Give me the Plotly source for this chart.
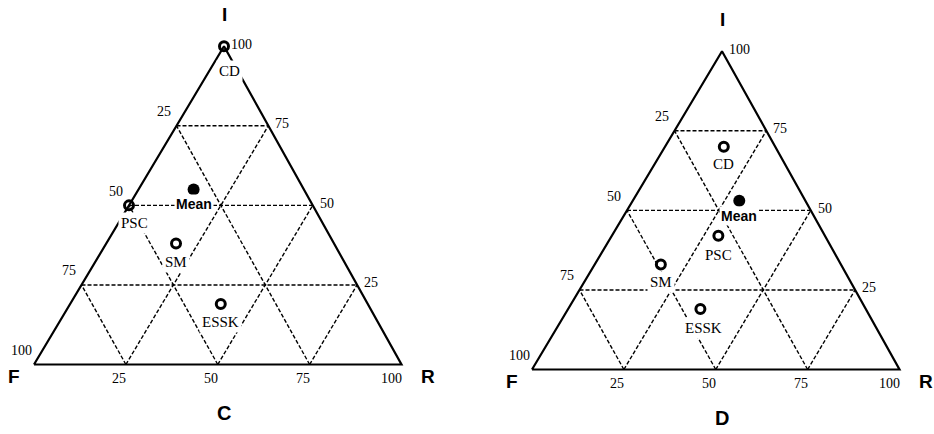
import math
import plotly.graph_objects as go

# Composition (percent) of each source: I, F and R components
SOURCES = ["CD", "PSC", "SM", "ESSK"]

C_I = [100, 50, 38, 19]
C_F = [0, 50, 43, 40]
C_R = [0, 0, 19, 41]
C_MEAN = [55, 30, 15]          # I, F, R

D_I = [70, 42, 33, 19]
D_F = [14, 29, 49, 45]
D_R = [16, 29, 18, 36]
D_MEAN = [53, 18, 29]          # I, F, R

GRID_STEPS = [25, 50, 75]
TICK_VALUES = [25, 50, 75, 100]
VERTEX_NAMES = ["I", "F", "R"]
PANEL_NAMES = ["C", "D"]

# Triangle projection: F at (0,0), R at (1,0), I at the apex
APEX_X = 0.517
H = math.sqrt(3) / 2


def to_xy(i, f, r):
    s = i + f + r
    return r / s + (i / s) * APEX_X, (i / s) * H


SERIF = "Liberation Serif"
SANS = "Liberation Sans"
DASH = "4px,2px"

fig = go.Figure()
annotations = []

# label offsets (px) for the source names beneath their markers
panels = [
    dict(I=C_I, F=C_F, R=C_R, mean=C_MEAN, name=PANEL_NAMES[0], xa="x", ya="y",
         label_dx=[5, 5, 0, 0], label_dy=[-25, -18, -18, -18]),
    dict(I=D_I, F=D_F, R=D_R, mean=D_MEAN, name=PANEL_NAMES[1], xa="x2", ya="y2",
         label_dx=[0, 0, 0, 3], label_dy=[-17, -19, -18, -19]),
]

for p in panels:
    xa, ya = p["xa"], p["ya"]

    # dashed 25% grid, one family of lines per component
    gx, gy = [], []
    for k in GRID_STEPS:
        for a, b in [
            (to_xy(k, 100 - k, 0), to_xy(k, 0, 100 - k)),      # constant I
            (to_xy(0, 100 - k, k), to_xy(100 - k, 0, k)),      # constant R
            (to_xy(0, k, 100 - k), to_xy(100 - k, k, 0)),      # constant F
        ]:
            gx += [a[0], b[0], None]
            gy += [a[1], b[1], None]
    fig.add_trace(go.Scatter(x=gx, y=gy, mode="lines", xaxis=xa, yaxis=ya,
                             line=dict(color="black", width=1.4, dash=DASH),
                             hoverinfo="skip", showlegend=False))

    # triangle frame
    corners = [to_xy(0, 100, 0), to_xy(0, 0, 100), to_xy(100, 0, 0), to_xy(0, 100, 0)]
    fig.add_trace(go.Scatter(x=[c[0] for c in corners], y=[c[1] for c in corners],
                             mode="lines", xaxis=xa, yaxis=ya,
                             line=dict(color="black", width=2.2),
                             hoverinfo="skip", showlegend=False))

    # sources
    pts = [to_xy(i, f, r) for i, f, r in zip(p["I"], p["F"], p["R"])]
    fig.add_trace(go.Scatter(x=[q[0] for q in pts], y=[q[1] for q in pts],
                             mode="markers", xaxis=xa, yaxis=ya,
                             marker=dict(symbol="circle-open", size=9, color="black",
                                         line=dict(width=3, color="black")),
                             text=SOURCES, showlegend=False))
    for name, q, dx, dy in zip(SOURCES, pts, p["label_dx"], p["label_dy"]):
        annotations.append(dict(x=q[0], y=q[1], xref=xa, yref=ya, text=name,
                                showarrow=False, xshift=dx, yshift=dy, xanchor="center",
                                yanchor="middle", bgcolor="white", borderpad=2,
                                font=dict(family=SERIF, size=15, color="black")))

    # mean composition
    mx, my = to_xy(*p["mean"])
    fig.add_trace(go.Scatter(x=[mx], y=[my], mode="markers", xaxis=xa, yaxis=ya,
                             marker=dict(symbol="circle", size=12, color="black"),
                             text=["Mean"], showlegend=False))
    annotations.append(dict(x=mx, y=my, xref=xa, yref=ya, text="<b>Mean</b>",
                            showarrow=False, yshift=-15, xanchor="center",
                            yanchor="middle", bgcolor="white", borderpad=1,
                            font=dict(family=SANS, size=14, color="black")))

    # tick labels on the three edges
    tick_font = dict(family=SERIF, size=14, color="black")
    for v in TICK_VALUES:
        lx, ly = to_xy(100 - v, v, 0)            # F along the left edge
        annotations.append(dict(x=lx, y=ly, xref=xa, yref=ya, text=str(v),
                                showarrow=False, xshift=-13, yshift=14,
                                xanchor="center", yanchor="middle", font=tick_font))
        rx, ry = to_xy(v, 0, 100 - v)            # I along the right edge
        annotations.append(dict(x=rx, y=ry, xref=xa, yref=ya, text=str(v),
                                showarrow=False, xshift=5, yshift=2,
                                xanchor="left", yanchor="middle", font=tick_font))
        bx, by = to_xy(0, 100 - v, v)            # R along the base
        annotations.append(dict(x=bx, y=by, xref=xa, yref=ya, text=str(v),
                                showarrow=False, xshift=2, yshift=-4,
                                xanchor="right", yanchor="top", font=tick_font))

    # vertex names and panel name
    vfont = dict(family=SANS, size=19, color="black")
    ix, iy = to_xy(100, 0, 0)
    fx, fy = to_xy(0, 100, 0)
    rx, ry = to_xy(0, 0, 100)
    annotations.append(dict(x=ix, y=iy, xref=xa, yref=ya, text="<b>%s</b>" % VERTEX_NAMES[0],
                            showarrow=False, yshift=32, font=vfont))
    annotations.append(dict(x=fx, y=fy, xref=xa, yref=ya, text="<b>%s</b>" % VERTEX_NAMES[1],
                            showarrow=False, xshift=-20, yshift=-12, font=vfont))
    annotations.append(dict(x=rx, y=ry, xref=xa, yref=ya, text="<b>%s</b>" % VERTEX_NAMES[2],
                            showarrow=False, xshift=26, yshift=-12, font=vfont))
    annotations.append(dict(x=APEX_X, y=0, xref=xa, yref=ya, text="<b>%s</b>" % p["name"],
                            showarrow=False, yshift=-48,
                            font=dict(family=SANS, size=20, color="black")))

# axis windows: 367.5 px per unit side, positioned within each half of the page
UNIT = 367.5
W, HT = 934, 434
half = W / 2


def axis_range(origin_px, span_px):
    lo = -origin_px / UNIT
    return [lo, lo + span_px / UNIT]


hidden = dict(visible=False, showgrid=False, zeroline=False, fixedrange=True)
fig.update_layout(
    width=W, height=HT,
    margin=dict(l=0, r=0, t=0, b=0),
    paper_bgcolor="white", plot_bgcolor="white",
    showlegend=False,
    xaxis=dict(domain=[0, 0.5], range=axis_range(34, half), **hidden),
    yaxis=dict(domain=[0, 1], range=axis_range(HT - 364.5, HT), **hidden),
    xaxis2=dict(domain=[0.5, 1], range=axis_range(532 - half, half), **hidden),
    yaxis2=dict(domain=[0, 1], range=axis_range(HT - 369.5, HT), anchor="x2", **hidden),
    annotations=annotations,
)

fig.write_html("out.html")
